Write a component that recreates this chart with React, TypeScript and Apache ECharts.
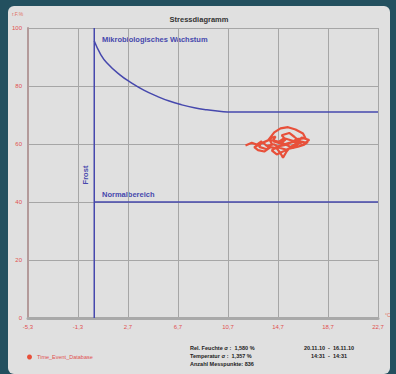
import React, { useEffect, useRef } from "react";
import * as echarts from "echarts";

// x axis: temperature in °C, ticks shifted so the axis minimum is a multiple of the interval
const X_SHIFT = 5.3;
const X_TICK_LABELS = ["-5,3", "-1,3", "2,7", "6,7", "10,7", "14,7", "18,7", "22,7"];
const Y_TICK_LABELS = ["0", "20", "40", "60", "80", "100"];

// boundary curve "Mikrobiologisches Wachstum": [°C, %rF]
const GROWTH_T = [0, 0.5, 1, 2, 3, 4, 5, 6, 7, 8, 9, 10, 11, 22.7];
const GROWTH_RH = [95.5, 91, 88, 84, 81, 78.5, 76.5, 74.8, 73.5, 72.5, 71.8, 71.3, 71, 71];

// Frost line (0 °C) and Normalbereich (40 %)
const FROST_T = [0, 0];
const FROST_RH = [0, 100];
const NORMAL_T = [0, 22.7];
const NORMAL_RH = [40, 40];

// measured points
const MEAS_T = [12.1, 12.6, 13.0, 13.4, 13.2, 13.8, 14.2, 14.0, 14.5, 14.3, 14.9, 15.3, 15.0, 15.6, 16.0, 16.4, 16.9, 17.2, 16.6, 16.1, 15.7, 15.4, 15.1, 14.9, 14.6, 14.1, 13.6, 13.1, 12.8, 13.3, 13.9, 14.4, 14.9, 15.5, 16.1, 16.7, 16.9, 16.2, 15.8, 15.2, 14.7, 14.2, 14.6, 15.0, 15.5, 16.3, 16.8, 17.1, 16.5, 15.9, 15.3, 14.8, 15.2, 15.8, 16.4, 16.0, 15.4, 14.8, 14.4, 13.8, 13.5, 14.0, 14.7, 15.1, 15.6, 16.2, 16.6];
const MEAS_RH = [59.5, 60.4, 59.8, 61.0, 59.0, 58.2, 60.0, 61.8, 62.6, 61.0, 60.2, 61.5, 63.0, 63.8, 62.5, 61.0, 60.5, 61.4, 62.2, 60.0, 59.0, 57.5, 55.3, 56.8, 58.5, 58.9, 57.4, 57.9, 58.9, 60.1, 61.2, 64.0, 65.4, 65.8, 65.0, 63.6, 62.0, 61.7, 60.6, 59.6, 59.2, 57.8, 56.4, 57.2, 58.3, 59.1, 59.8, 60.7, 59.4, 58.6, 59.8, 60.9, 62.0, 61.2, 60.3, 59.1, 58.0, 58.7, 59.9, 59.3, 60.5, 61.5, 60.8, 59.7, 60.4, 61.0, 60.2];

const STATS = ["Rel. Feuchte σ :  1,580 %", "Temperatur σ :  1,357 %", "Anzahl Messpunkte: 836"];
const DATES = ["20.11.10  -  16.11.10", "14:31  -  14:31"];

const pts = (t: number[], rh: number[]) => t.map((v, i) => [v + X_SHIFT, rh[i]]);

export default function App() {
  const ref = useRef<HTMLDivElement>(null);
  useEffect(() => {
    const chart = echarts.init(ref.current!, null, { renderer: "svg" });
    const blue = "#4648ad";
    const red = "#e8503a";
    const font = "Liberation Sans";
    chart.setOption({
      animation: false,
      textStyle: { fontFamily: font },
      title: {
        text: "Stressdiagramm",
        left: "center",
        top: 4,
        textStyle: { fontSize: 7.5, fontWeight: "bold", color: "#333", fontFamily: font },
      },
      legend: {
        left: 14,
        top: 343,
        icon: "circle",
        itemWidth: 5,
        itemHeight: 5,
        itemGap: 4,
        data: ["Time_Event_Database"],
        textStyle: { fontSize: 5.5, color: "#e05050", fontFamily: font },
      },
      grid: { left: 20, right: 12, top: 22, bottom: 56 },
      xAxis: {
        type: "value",
        min: 0,
        max: 28,
        interval: 4,
        axisLine: { show: true, lineStyle: { color: "#a9a9a9", width: 3 } },
        axisTick: { show: false },
        axisLabel: {
          color: "#e05050",
          fontSize: 6,
          margin: 6,
          formatter: (v: number) => X_TICK_LABELS[Math.round(v / 4)],
        },
        splitLine: { show: true, lineStyle: { color: "#a6a6a6", width: 1 } },
      },
      yAxis: {
        type: "value",
        min: 0,
        max: 100,
        interval: 20,
        axisLine: { show: true, lineStyle: { color: "#b39a9a", width: 2 } },
        axisTick: { show: false },
        axisLabel: {
          color: "#e05050",
          fontSize: 6,
          margin: 6,
          formatter: (v: number) => Y_TICK_LABELS[Math.round(v / 20)],
        },
        splitLine: { show: true, lineStyle: { color: "#a6a6a6", width: 1 } },
      },
      series: [
        {
          type: "line",
          name: "growth",
          data: pts(GROWTH_T, GROWTH_RH),
          smooth: true,
          showSymbol: false,
          lineStyle: { color: blue, width: 1.5 },
        },
        {
          type: "line",
          name: "frost",
          data: pts(FROST_T, FROST_RH),
          showSymbol: false,
          lineStyle: { color: blue, width: 1.5 },
        },
        {
          type: "line",
          name: "normal",
          data: pts(NORMAL_T, NORMAL_RH),
          showSymbol: false,
          lineStyle: { color: blue, width: 1.5 },
        },
        {
          type: "line",
          name: "Time_Event_Database",
          data: pts(MEAS_T, MEAS_RH),
          showSymbol: false,
          itemStyle: { color: red },
          lineStyle: { color: red, width: 2.2 },
        },
      ],
      graphic: [
        { type: "text", left: 4, top: 5, style: { text: "r.F.%", fontSize: 5, fill: "#e07060", fontFamily: font } },
        { type: "text", left: 377, top: 306, style: { text: "°C", fontSize: 5, fill: "#e07060", fontFamily: font } },
        {
          type: "text", x: 94, y: 33,
          style: { text: "Mikrobiologisches Wachstum", fontSize: 7.5, fontWeight: "bold", fill: blue, fontFamily: font, textVerticalAlign: "middle" },
        },
        {
          type: "text", x: 94, y: 188,
          style: { text: "Normalbereich", fontSize: 7.5, fontWeight: "bold", fill: blue, fontFamily: font, textVerticalAlign: "middle" },
        },
        {
          type: "text", x: 77, y: 169, rotation: Math.PI / 2,
          style: { text: "Frost", fontSize: 7.5, fontWeight: "bold", fill: blue, fontFamily: font, textAlign: "center", textVerticalAlign: "middle" },
        },
        ...STATS.map((s, i) => ({
          type: "text", x: 182, y: 342 + i * 8,
          style: { text: s, fontSize: 5.5, fontWeight: "bold", fill: "#222", fontFamily: font, textVerticalAlign: "middle" },
        })),
        ...DATES.map((s, i) => ({
          type: "text", x: 321, y: 342 + i * 8,
          style: { text: s, fontSize: 5.5, fontWeight: "bold", fill: "#222", fontFamily: font, textAlign: "center", textVerticalAlign: "middle" },
        })),
      ],
    });
    return () => chart.dispose();
  }, []);
  return (
    <div style={{ position: "fixed", left: 0, top: 0, width: 396, height: 374, background: "#23505f" }}>
      <div
        ref={ref}
        style={{ position: "absolute", left: 8, top: 6, width: 382, height: 368, background: "#e0e0e0", borderRadius: 6 }}
      />
    </div>
  );
}
